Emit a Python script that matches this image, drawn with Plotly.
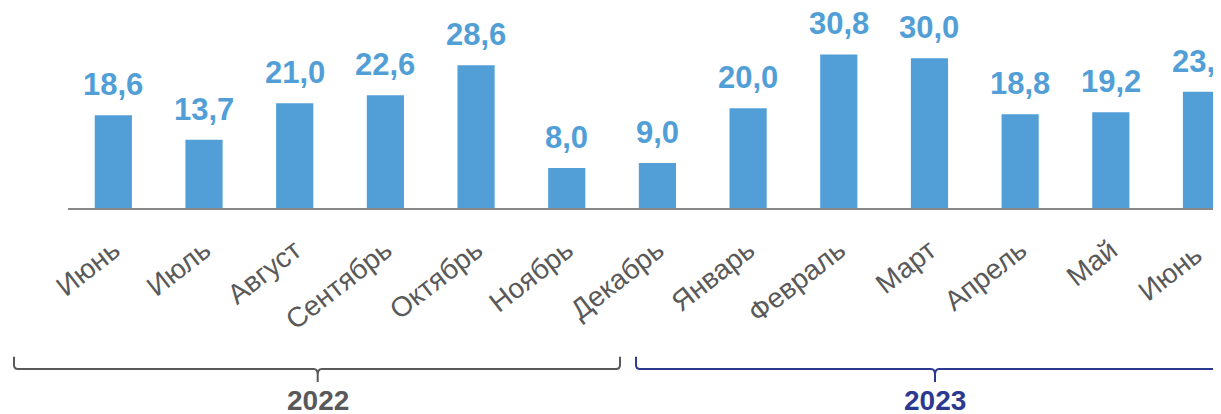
import plotly.graph_objects as go

months = ["Июнь", "Июль", "Август", "Сентябрь", "Октябрь", "Ноябрь", "Декабрь",
          "Январь", "Февраль", "Март", "Апрель", "Май", "Июнь "]
values = [18.6, 13.7, 21.0, 22.6, 28.6, 8.0, 9.0, 20.0, 30.8, 30.0, 18.8, 19.2, 23.3]
labels = ["18,6", "13,7", "21,0", "22,6", "28,6", "8,0", "9,0", "20,0", "30,8", "30,0", "18,8", "19,2", "23,3"]
years = ["2022", "2023"]

OFF = 8  # page body margin
W, H = 1221 - OFF, 414 - OFF
L_M, R_M, T_M = 68 - OFF, 0, 0
BASE = 208.5 - OFF
B_M = H - BASE
PW = W - L_M - R_M
PH = BASE - T_M

BAR = "#529FD7"
GRAY = "#595959"
NAVY = "#2B3990"
FONT = "Liberation Sans, Arial, sans-serif"

def px(x):
    return (x - OFF - L_M) / PW

def py(y):
    return (BASE - (y - OFF)) / PH

fig = go.Figure()
fig.add_trace(go.Bar(x=months, y=values, marker_color=BAR, marker_line_width=0,
                     width=0.41, hoverinfo="skip"))

for m, v, t in zip(months, values, labels):
    fig.add_annotation(x=m, y=v, text=t, showarrow=False, yanchor="bottom",
                       yshift=11, font=dict(family=FONT, size=31, color=BAR, weight="bold"))

def bracket(x0, x1, xp, color):
    top, mid, bot, r = 357.5, 370, 383, 4
    p = (f"M {px(x0)},{py(top)} L {px(x0)},{py(mid - r)} Q {px(x0)},{py(mid)} {px(x0 + r)},{py(mid)} "
         f"L {px(xp - r)},{py(mid)} Q {px(xp)},{py(mid)} {px(xp)},{py(mid + r + 2)} L {px(xp)},{py(bot)} "
         f"M {px(xp)},{py(mid + r + 2)} Q {px(xp)},{py(mid)} {px(xp + r)},{py(mid)} "
         f"L {px(x1 - r)},{py(mid)} Q {px(x1)},{py(mid)} {px(x1)},{py(mid - r)} L {px(x1)},{py(top)}")
    fig.add_shape(type="path", path=p, xref="paper", yref="paper",
                  line=dict(color=color, width=2))

bracket(14, 620, 317.7, GRAY)
bracket(636, 1240, 935, NAVY)

for yr, xc, col in zip(years, [317.7, 935], [GRAY, NAVY]):
    fig.add_annotation(x=px(xc), y=py(401), xref="paper", yref="paper", text=yr,
                       showarrow=False, xanchor="center", yanchor="middle",
                       font=dict(family=FONT, size=28, color=col, weight="bold"))

fig.update_layout(
    width=W, height=H, margin=dict(l=L_M, r=R_M, t=T_M, b=B_M, pad=0),
    paper_bgcolor="white", plot_bgcolor="white", showlegend=False,
    xaxis=dict(range=[-0.5, 12.215], showgrid=False, zeroline=False,
               showline=True, linecolor="#898989", linewidth=2,
               tickangle=-38, ticks="", ticklabelstandoff=13,
               tickfont=dict(family=FONT, size=28, color=GRAY)),
    yaxis=dict(range=[0, PH / 5.0], visible=False, fixedrange=True),
)

fig.write_html("out.html")
